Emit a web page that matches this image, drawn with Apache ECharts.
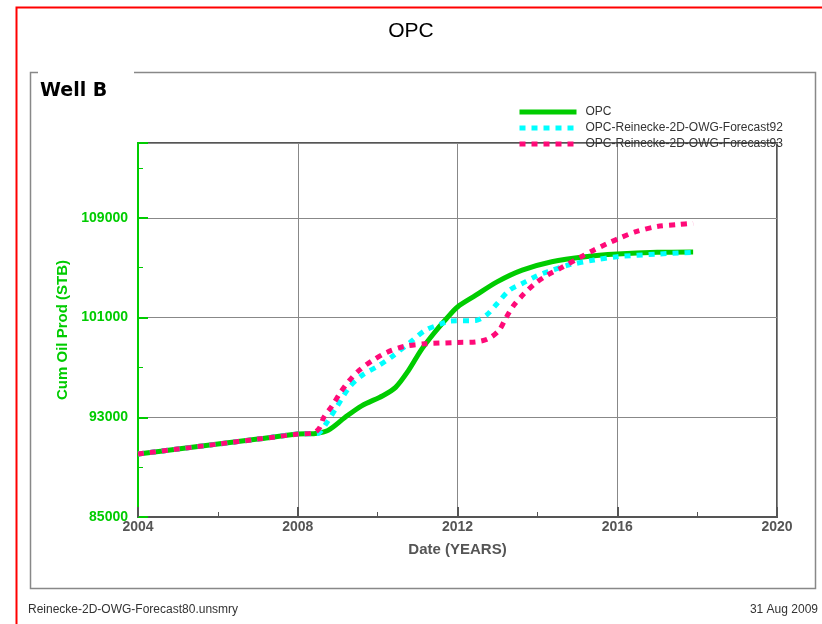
<!DOCTYPE html>
<html><head><meta charset="utf-8">
<script src="https://cdn.jsdelivr.net/npm/echarts@6/dist/echarts.min.js"></script>
<style>html,body{margin:0;padding:0;background:#fff}#c{width:822px;height:624px}</style>
</head><body><div id="c"></div>
<script>
var seriesNames = ['OPC', 'OPC-Reinecke-2D-OWG-Forecast92', 'OPC-Reinecke-2D-OWG-Forecast93'];
var xTicks = [2004, 2008, 2012, 2016, 2020];
var yTicks = [85000, 93000, 101000, 109000];

var opcYears = [2004.0, 2005.0, 2006.0, 2007.0, 2008.0, 2008.44, 2008.76, 2009.18, 2009.6, 2010.13, 2010.45, 2010.77, 2011.08, 2011.4, 2011.72, 2012.0, 2012.46, 2012.99, 2013.62, 2014.36, 2015.2, 2016.0, 2017.0, 2017.9];
var opcValues = [90050, 90450, 90850, 91250, 91650, 91700, 91950, 92980, 93920, 94730, 95400, 96740, 98350, 99700, 100900, 101850, 102790, 103860, 104800, 105475, 105880, 106090, 106230, 106260];

var f92Years = [2004.0, 2005.0, 2006.0, 2007.0, 2008.0, 2008.5, 2008.7, 2008.97, 2009.29, 2009.6, 2010.03, 2010.34, 2010.87, 2011.19, 2011.6, 2011.82, 2012.46, 2012.72, 2012.99, 2013.3, 2013.62, 2013.94, 2014.25, 2014.78, 2015.42, 2016.0, 2017.0, 2017.9];
var f92Values = [90050, 90450, 90850, 91250, 91650, 91700, 92440, 93790, 95400, 96340, 97150, 97820, 99160, 99970, 100500, 100720, 100770, 101180, 102110, 103190, 103730, 104270, 104670, 105210, 105610, 105880, 106090, 106230];

var f93Years = [2004.0, 2005.0, 2006.0, 2007.0, 2008.0, 2008.4, 2008.55, 2008.65, 2008.86, 2009.07, 2009.29, 2009.55, 2009.87, 2010.24, 2010.66, 2011.19, 2012.0, 2012.46, 2012.77, 2013.04, 2013.2, 2013.41, 2013.67, 2013.94, 2014.25, 2014.57, 2015.1, 2015.42, 2015.73, 2016.05, 2016.47, 2017.0, 2017.53, 2017.9];
var f93Values = [90050, 90450, 90850, 91250, 91650, 91750, 92170, 92980, 93920, 95000, 95940, 96800, 97550, 98220, 98680, 98890, 99000, 99050, 99300, 99970, 100900, 101980, 102920, 103730, 104400, 104940, 105880, 106420, 106900, 107360, 107890, 108300, 108460, 108570];

function pairs(xs, ys) { return xs.map(function (x, i) { return [x, ys[i]]; }); }

var chart = echarts.init(document.getElementById('c'), null, {renderer: 'canvas'});
var GREEN = '#00CC00', CYAN = '#00FFFF', PINK = '#FF0A78', AX = '#555555';
chart.setOption({
  backgroundColor: '#ffffff',
  animation: false,
  title: {
    text: 'OPC', left: 'center', top: 16,
    textStyle: {fontFamily: 'Liberation Sans', fontSize: 21, fontWeight: 'normal', color: '#000'}
  },
  legend: {
    orient: 'vertical', left: 517, top: 106, itemGap: 4, padding: 0,
    itemWidth: 57, itemHeight: 12,
    itemStyle: {opacity: 0},
    lineStyle: {width: 5},
    textStyle: {fontFamily: 'Liberation Sans', fontSize: 12, color: '#333', padding: [0, 0, 0, 4]},
    data: seriesNames
  },
  grid: {left: 138, right: 45, top: 143, bottom: 107, show: true, borderColor: AX, borderWidth: 2, backgroundColor: 'transparent'},
  xAxis: {
    type: 'value', min: xTicks[0], max: xTicks[xTicks.length - 1], interval: 4,
    name: 'Date (YEARS)', nameLocation: 'middle', nameGap: 25,
    nameTextStyle: {fontFamily: 'Liberation Sans', fontSize: 15, fontWeight: 'bold', color: AX},
    axisLine: {show: true, lineStyle: {color: AX, width: 2}},
    axisTick: {show: true, inside: true, length: 10, lineStyle: {color: AX, width: 2}},
    minorTick: {show: true, splitNumber: 2, length: 5, lineStyle: {color: AX, width: 1}},
    axisLabel: {fontFamily: 'Liberation Sans', fontSize: 14, fontWeight: 'bold', color: AX, margin: 3,
      formatter: function (v) { return String(v); }},
    splitLine: {show: true, lineStyle: {color: '#888', width: 1}}
  },
  yAxis: {
    type: 'value', min: yTicks[0], max: 115000, interval: 8000,
    name: 'Cum Oil Prod (STB)', nameLocation: 'middle', nameGap: 59,
    nameTextStyle: {fontFamily: 'Liberation Sans', fontSize: 15, fontWeight: 'bold', color: GREEN},
    axisLine: {show: true, lineStyle: {color: GREEN, width: 2}},
    axisTick: {show: true, inside: true, length: 10, lineStyle: {color: GREEN, width: 2}},
    minorTick: {show: true, splitNumber: 2, length: 5, lineStyle: {color: GREEN, width: 1}},
    axisLabel: {
      fontFamily: 'Liberation Sans', fontSize: 14, fontWeight: 'bold', color: GREEN, margin: 10,
      formatter: function (v) { return yTicks.indexOf(v) >= 0 ? String(v) : ''; }
    },
    splitLine: {show: true, lineStyle: {color: '#888', width: 1}}
  },
  series: [
    {name: seriesNames[0], type: 'line', data: pairs(opcYears, opcValues), smooth: 0.3, showSymbol: false, symbol: 'none',
     color: GREEN, lineStyle: {color: GREEN, width: 5}, z: 2},
    {name: seriesNames[1], type: 'line', data: pairs(f92Years, f92Values), smooth: 0.3, showSymbol: false, symbol: 'none',
     color: CYAN, lineStyle: {color: CYAN, width: 5, type: [6, 6], cap: 'butt'}, z: 3},
    {name: seriesNames[2], type: 'line', data: pairs(f93Years, f93Values), smooth: 0.3, showSymbol: false, symbol: 'none',
     color: PINK, lineStyle: {color: PINK, width: 5, type: [6, 6], cap: 'butt'}, z: 4}
  ],
  graphic: [
    {type: 'polyline', silent: true, shape: {points: [[16.5, 900], [16.5, 7.5], [830, 7.5]]}, style: {stroke: '#FF0000', lineWidth: 2, fill: null}},
    {type: 'polyline', silent: true, shape: {points: [[38, 72.5], [30.5, 72.5], [30.5, 588.5], [815.5, 588.5], [815.5, 72.5], [134, 72.5]]}, style: {stroke: '#888', lineWidth: 1.5, fill: null}},
    {type: 'text', left: 40, top: 82, style: {text: 'Well B', fontFamily: 'DejaVu Sans', fontSize: 19, fontWeight: 'bold', fill: '#000'}},
    {type: 'text', left: 28, top: 604, style: {text: 'Reinecke-2D-OWG-Forecast80.unsmry', fontFamily: 'Liberation Sans', fontSize: 12, fill: '#333'}},
    {type: 'text', right: 4, top: 604, style: {text: '31 Aug 2009', fontFamily: 'Liberation Sans', fontSize: 12, fill: '#333'}}
  ]
});
</script></body></html>
